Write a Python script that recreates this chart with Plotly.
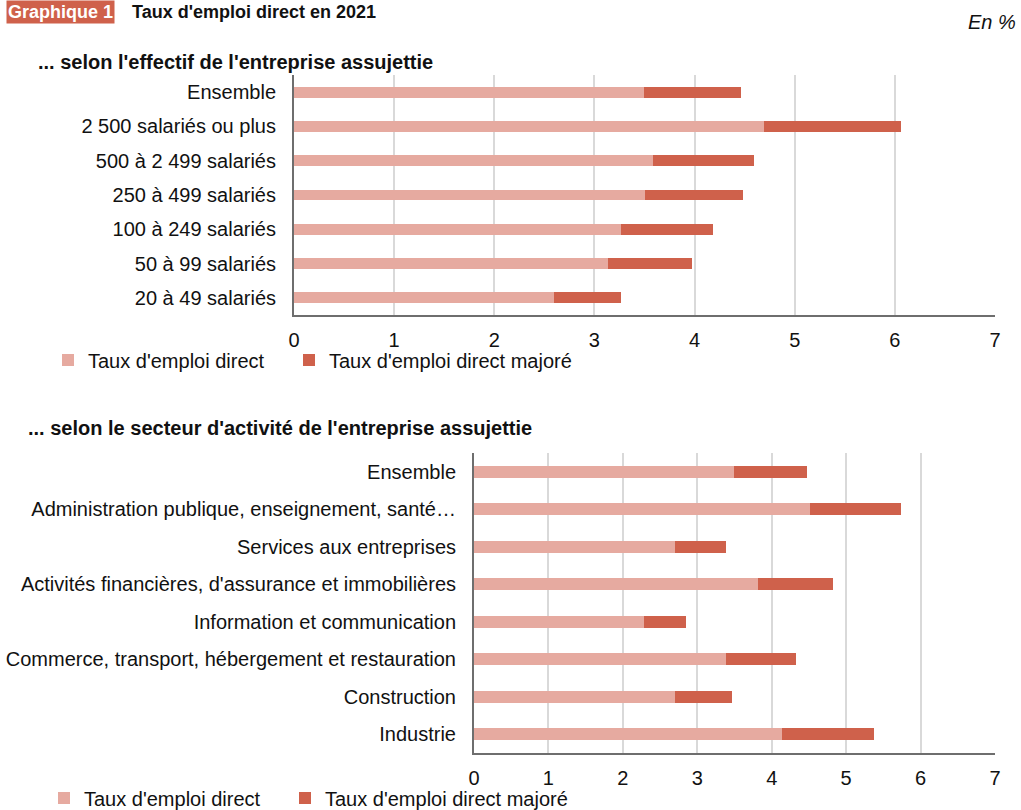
import plotly.graph_objects as go

# ---- Data ----
cat_size = ["Ensemble", "2 500 salariés ou plus", "500 à 2 499 salariés",
            "250 à 499 salariés", "100 à 249 salariés", "50 à 99 salariés",
            "20 à 49 salariés"]
direct_size = [3.49, 4.69, 3.58, 3.50, 3.27, 3.14, 2.60]
majore_size = [4.46, 6.06, 4.59, 4.48, 4.18, 3.97, 3.27]

cat_sector = ["Ensemble", "Administration publique, enseignement, santé…",
              "Services aux entreprises",
              "Activités financières, d'assurance et immobilières",
              "Information et communication",
              "Commerce, transport, hébergement et restauration",
              "Construction", "Industrie"]
direct_sector = [3.49, 4.51, 2.70, 3.81, 2.28, 3.38, 2.70, 4.14]
majore_sector = [4.47, 5.74, 3.39, 4.83, 2.85, 4.32, 3.47, 5.38]

x_ticks = [0, 1, 2, 3, 4, 5, 6, 7]
series_names = ["Taux d'emploi direct", "Taux d'emploi direct majoré"]

# ---- Style ----
W, H = 1021, 810
C_LIGHT = "#E6AAA0"
C_DARK = "#CF614B"
FONT = "Liberation Sans, Arial, sans-serif"
FS = 20

def px_x(p):
    return p / W

def px_y(p):
    return 1 - p / H

fig = go.Figure()

def add_pair(cats, direct, majore, xa, ya, legend):
    extra = [m - d for m, d in zip(majore, direct)]
    fig.add_trace(go.Bar(y=cats, x=direct, orientation="h", name=series_names[0],
                         marker=dict(color=C_LIGHT, line=dict(width=0)),
                         width=0.32, xaxis=xa, yaxis=ya, legend=legend,
                         legendwidth=196))
    fig.add_trace(go.Bar(y=cats, x=extra, orientation="h", name=series_names[1],
                         marker=dict(color=C_DARK, line=dict(width=0)),
                         width=0.32, xaxis=xa, yaxis=ya, legend=legend,
                         legendwidth=270))

add_pair(cat_size, direct_size, majore_size, "x", "y", "legend")
add_pair(cat_sector, direct_sector, majore_sector, "x2", "y2", "legend2")

xaxis_common = dict(range=[0, 7], tickvals=x_ticks, showgrid=True,
                    gridcolor="#D9D9D9", gridwidth=1.5, showline=True,
                    linecolor="#6E6E6E", linewidth=2, zeroline=False,
                    ticks="", tickfont=dict(size=FS, color="#111111", family=FONT),
                    ticklabelstandoff=6, fixedrange=True)
yaxis_common = dict(autorange="reversed", showline=True, linecolor="#6E6E6E",
                    linewidth=2, ticks="", showgrid=False,
                    tickfont=dict(size=FS, color="#111111", family=FONT),
                    ticklabelstandoff=12, fixedrange=True)

legend_common = dict(orientation="h", xanchor="left", yanchor="middle",
                     font=dict(size=FS, color="#111111", family=FONT),
                     bgcolor="rgba(0,0,0,0)", itemclick=False,
                     itemdoubleclick=False, traceorder="normal")

fig.update_layout(
    width=W, height=H,
    margin=dict(l=0, r=0, t=0, b=0, autoexpand=False),
    paper_bgcolor="white", plot_bgcolor="white",
    barmode="stack", bargap=0.68,
    font=dict(family=FONT, size=FS, color="#111111"),
    xaxis=dict(domain=[px_x(294), px_x(995)], anchor="y", **xaxis_common),
    yaxis=dict(domain=[px_y(315), px_y(75)], anchor="x", **yaxis_common),
    xaxis2=dict(domain=[px_x(474), px_x(995)], anchor="y2", **xaxis_common),
    yaxis2=dict(domain=[px_y(753), px_y(453)], anchor="x2", **yaxis_common),
    legend=dict(x=px_x(48), y=px_y(360), **legend_common),
    legend2=dict(x=px_x(44), y=px_y(798), **legend_common),
    showlegend=True,
)

annotations = [
    dict(text="<b>Graphique 1</b>", x=px_x(6), y=1, xanchor="left",
         yanchor="top", bgcolor=C_DARK, borderpad=1,
         font=dict(size=18, color="white", family=FONT)),
    dict(text="<b>Taux d'emploi direct en 2021</b>", x=px_x(130), y=1,
         xanchor="left", yanchor="top", borderpad=1,
         font=dict(size=18, color="#111111", family=FONT)),
    dict(text="<i>En %</i>", x=px_x(1018), y=px_y(22), xanchor="right",
         yanchor="middle", font=dict(size=FS, color="#111111", family=FONT)),
    dict(text="<b>... selon l'effectif de l'entreprise assujettie</b>",
         x=px_x(36), y=px_y(62), xanchor="left", yanchor="middle",
         font=dict(size=20, color="#111111", family=FONT)),
    dict(text="<b>... selon le secteur d'activité de l'entreprise assujettie</b>",
         x=px_x(26), y=px_y(428), xanchor="left", yanchor="middle",
         font=dict(size=20, color="#111111", family=FONT)),
]
for a in annotations:
    a.update(xref="paper", yref="paper", showarrow=False)
fig.update_layout(annotations=annotations)

fig.write_html("out.html")
